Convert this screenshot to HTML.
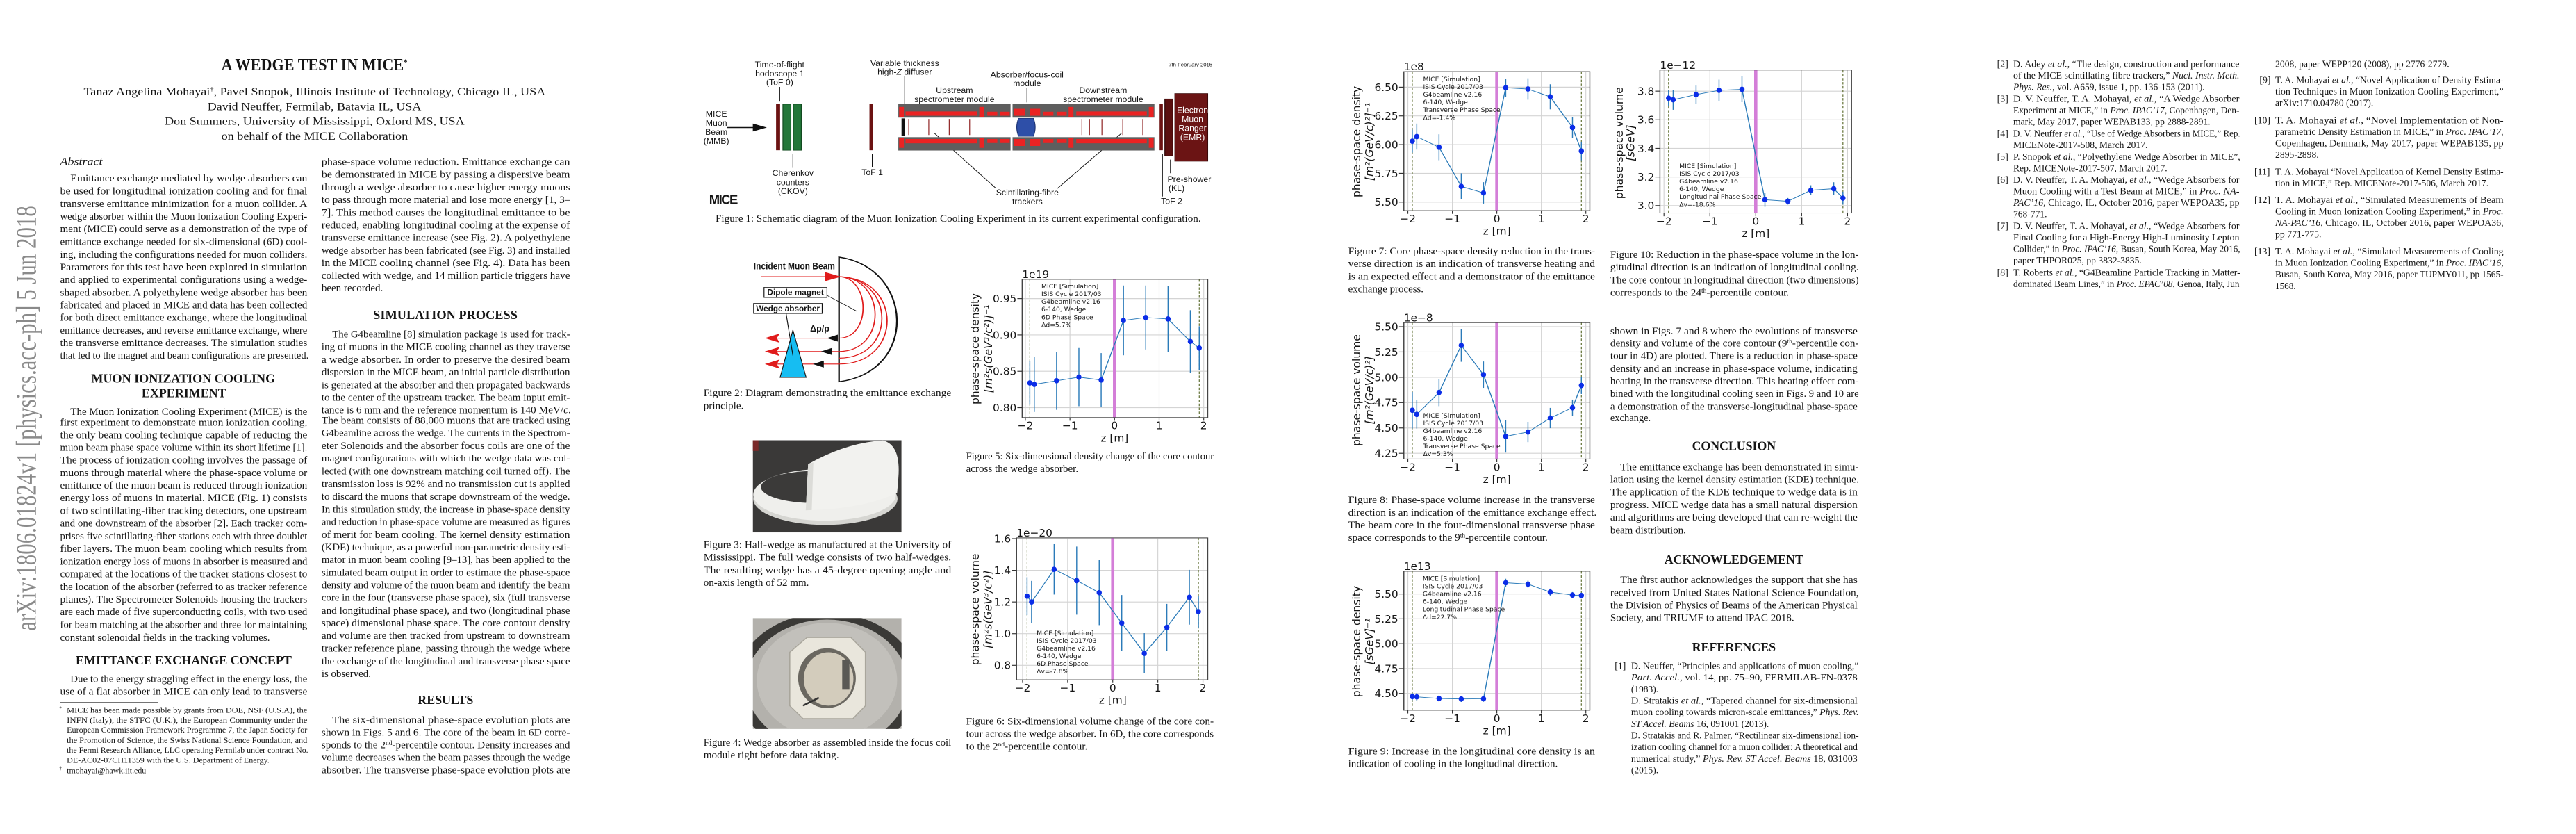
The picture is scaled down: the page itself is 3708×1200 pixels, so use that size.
<!DOCTYPE html>
<html><head><meta charset="utf-8">
<style>
html,body{margin:0;padding:0;background:#fff;}
body{width:3708px;height:1200px;position:relative;overflow:hidden;}
svg.rg{position:absolute;top:0;height:1200px;overflow:visible;}
svg.rg text{font-family:"Liberation Serif",serif;font-size:39px;fill:#151515;}
svg.rg text.h{font-weight:bold;font-size:46px;}
svg.rg text.fn{font-size:30px;}
svg.rg text.rf{font-size:36px;}
svg.rg text.sn{font-family:"Liberation Sans",sans-serif;font-size:32px;}
svg.rg text.ch{font-family:"DejaVu Sans",sans-serif;}
</style></head>
<body>

<!-- ================= PAGE 1 ================= -->
<svg id="regA" class="rg" style="left:0;width:1000px" viewBox="0 0 1560 3120" preserveAspectRatio="none">
<text transform="translate(80,1565) rotate(-90)" text-anchor="middle" textLength="1590" style="font-size:64px;fill:#8a8a8a">arXiv:1806.01824v1  [physics.acc-ph]  5 Jun 2018</text>
<text x="497" y="262" textLength="418" style="font-size:62px;font-weight:bold">A WEDGE TEST IN MICE<tspan dy="-20" style="font-size:30px">*</tspan></text>
<g style="font-size:42px">
<text x="188" y="356" textLength="1037" style="font-size:42px">Tanaz Angelina Mohayai<tspan dy="-14" style="font-size:24px">†</tspan><tspan dy="14">, Pavel Snopok, Illinois Institute of Technology, Chicago IL, USA</tspan></text>
<text x="466" y="412" textLength="480" style="font-size:42px">David Neuffer, Fermilab, Batavia IL, USA</text>
<text x="370" y="467" textLength="673" style="font-size:42px">Don Summers, University of Mississippi, Oxford MS, USA</text>
<text x="497" y="522" textLength="419" style="font-size:42px">on behalf of the MICE Collaboration</text>
</g>
<text x="135" y="617" textLength="95" style="font-style:italic;font-size:42px">Abstract</text>
<g>
<text x="158" y="679" textLength="532">Emittance exchange mediated by wedge absorbers can</text>
<text x="135" y="727" textLength="555">be used for longitudinal ionization cooling and for final</text>
<text x="135" y="775" textLength="555">transverse emittance minimization for a muon collider. A</text>
<text x="135" y="822" textLength="555">wedge absorber within the Muon Ionization Cooling Experi-</text>
<text x="135" y="869" textLength="555">ment (MICE) could serve as a demonstration of the type of</text>
<text x="135" y="917" textLength="555">emittance exchange needed for six-dimensional (6D) cool-</text>
<text x="135" y="964" textLength="555">ing, including the configurations needed for muon colliders.</text>
<text x="135" y="1011" textLength="555">Parameters for this test have been explored in simulation</text>
<text x="135" y="1058" textLength="555">and applied to experimental configurations using a wedge-</text>
<text x="135" y="1106" textLength="555">shaped absorber. A polyethylene wedge absorber has been</text>
<text x="135" y="1153" textLength="555">fabricated and placed in MICE and data has been collected</text>
<text x="135" y="1200" textLength="555">for both direct emittance exchange, where the longitudinal</text>
<text x="135" y="1248" textLength="555">emittance decreases, and reverse emittance exchange, where</text>
<text x="135" y="1295" textLength="555">the transverse emittance decreases. The simulation studies</text>
<text x="135" y="1342" textLength="558">that led to the magnet and beam configurations are presented.</text>
</g>
<text class="h" x="205" y="1431" textLength="413">MUON IONIZATION COOLING</text>
<text class="h" x="318" y="1486" textLength="190">EXPERIMENT</text>
<g>
<text x="158" y="1552" textLength="532">The Muon Ionization Cooling Experiment (MICE) is the</text>
<text x="135" y="1592" textLength="555">first experiment to demonstrate muon ionization cooling,</text>
<text x="135" y="1639" textLength="555">the only beam cooling technique capable of reducing the</text>
<text x="135" y="1686" textLength="555">muon beam phase space volume within its short lifetime [1].</text>
<text x="135" y="1733" textLength="555">The process of ionization cooling involves the passage of</text>
<text x="135" y="1781" textLength="555">muons through material where the phase-space volume or</text>
<text x="135" y="1828" textLength="555">emittance of the muon beam is reduced through ionization</text>
<text x="135" y="1875" textLength="555">energy loss of muons in material. MICE (Fig. 1) consists</text>
<text x="135" y="1923" textLength="555">of two scintillating-fiber tracking detectors, one upstream</text>
<text x="135" y="1970" textLength="555">and one downstream of the absorber [2]. Each tracker com-</text>
<text x="135" y="2017" textLength="555">prises five scintillating-fiber stations each with three doublet</text>
<text x="135" y="2065" textLength="555">fiber layers. The muon beam cooling which results from</text>
<text x="135" y="2112" textLength="555">ionization energy loss of muons in absorber is measured and</text>
<text x="135" y="2159" textLength="555">compared at the locations of the tracker stations closest to</text>
<text x="135" y="2207" textLength="555">the location of the absorber (referred to as tracker reference</text>
<text x="135" y="2254" textLength="555">planes). The Spectrometer Solenoids housing the trackers</text>
<text x="135" y="2301" textLength="555">are each made of five superconducting coils, with two used</text>
<text x="135" y="2349" textLength="555">for beam matching at the absorber and three for maintaining</text>
<text x="135" y="2397" textLength="471">constant solenoidal fields in the tracking volumes.</text>
</g>
<text class="h" x="170" y="2486" textLength="485">EMITTANCE EXCHANGE CONCEPT</text>
<g>
<text x="158" y="2552" textLength="532">Due to the energy straggling effect in the energy loss, the</text>
<text x="135" y="2599" textLength="555">use of a flat absorber in MICE can only lead to transverse</text>
</g>
<line x1="135" y1="2628" x2="355" y2="2628" stroke="#222" stroke-width="2"/>
<g>
<text class="fn" x="133" y="2656" style="font-size:20px">*</text>
<text class="fn" x="150" y="2666" textLength="540">MICE has been made possible by grants from DOE, NSF (U.S.A), the</text>
<text class="fn" x="150" y="2704" textLength="540">INFN (Italy), the STFC (U.K.), the European Community under the</text>
<text class="fn" x="150" y="2741" textLength="540">European Commission Framework Programme 7, the Japan Society for</text>
<text class="fn" x="150" y="2779" textLength="540">the Promotion of Science, the Swiss National Science Foundation, and</text>
<text class="fn" x="150" y="2816" textLength="542">the Fermi Research Alliance, LLC operating Fermilab under contract No.</text>
<text class="fn" x="150" y="2854" textLength="455">DE-AC02-07CH11359 with the U.S. Department of Energy.</text>
<text class="fn" x="133" y="2880" style="font-size:20px">†</text>
<text class="fn" x="150" y="2892" textLength="178">tmohayai@hawk.iit.edu</text>
</g>
<g>
<text x="722" y="617" textLength="558">phase-space volume reduction. Emittance exchange can</text>
<text x="722" y="664" textLength="558">be demonstrated in MICE by passing a dispersive beam</text>
<text x="722" y="712" textLength="558">through a wedge absorber to cause higher energy muons</text>
<text x="722" y="759" textLength="558">to pass through more material and lose more energy [1, 3–</text>
<text x="722" y="807" textLength="558">7]. This method causes the longitudinal emittance to be</text>
<text x="722" y="854" textLength="558">reduced, enabling longitudinal cooling at the expense of</text>
<text x="722" y="901" textLength="558">transverse emittance increase (see Fig. 2). A polyethylene</text>
<text x="722" y="949" textLength="558">wedge absorber has been fabricated (see Fig. 3) and installed</text>
<text x="722" y="996" textLength="558">in the MICE cooling channel (see Fig. 4). Data has been</text>
<text x="722" y="1043" textLength="558">collected with wedge, and 14 million particle triggers have</text>
<text x="722" y="1090" textLength="138">been recorded.</text>
</g>
<text class="h" x="838" y="1194" textLength="324">SIMULATION PROCESS</text>
<g>
<text x="746" y="1262" textLength="534">The G4beamline [8] simulation package is used for track-</text>
<text x="722" y="1309" textLength="558">ing of muons in the MICE cooling channel as they traverse</text>
<text x="722" y="1357" textLength="558">a wedge absorber. In order to preserve the desired beam</text>
<text x="722" y="1404" textLength="558">dispersion in the MICE beam, an initial particle distribution</text>
<text x="722" y="1452" textLength="558">is generated at the absorber and then propagated backwards</text>
<text x="722" y="1499" textLength="558">to the center of the upstream tracker. The beam input emit-</text>
<text x="722" y="1546" textLength="560">tance is 6 mm and the reference momentum is 140 MeV/<tspan font-style="italic">c</tspan>.</text>
<text x="722" y="1585" textLength="558">The beam consists of 88,000 muons that are tracked using</text>
<text x="722" y="1632" textLength="558">G4beamline across the wedge. The currents in the Spectrom-</text>
<text x="722" y="1679" textLength="558">eter Solenoids and the absorber focus coils are one of the</text>
<text x="722" y="1727" textLength="558">magnet configurations with which the wedge data was col-</text>
<text x="722" y="1774" textLength="558">lected (with one downstream matching coil turned off). The</text>
<text x="722" y="1822" textLength="558">transmission loss is 92% and no transmission cut is applied</text>
<text x="722" y="1869" textLength="558">to discard the muons that scrape downstream of the wedge.</text>
<text x="722" y="1917" textLength="558">In this simulation study, the increase in phase-space density</text>
<text x="722" y="1964" textLength="558">and reduction in phase-space volume are measured as figures</text>
<text x="722" y="2012" textLength="558">of merit for beam cooling. The kernel density estimation</text>
<text x="722" y="2059" textLength="558">(KDE) technique, as a powerful non-parametric density esti-</text>
<text x="722" y="2106" textLength="558">mator in muon beam cooling [9–13], has been applied to the</text>
<text x="722" y="2154" textLength="558">simulated beam output in order to estimate the phase-space</text>
<text x="722" y="2201" textLength="558">density and volume of the muon beam and identify the beam</text>
<text x="722" y="2248" textLength="558">core in the four (transverse phase space), six (full transverse</text>
<text x="722" y="2296" textLength="558">and longitudinal phase space), and two (longitudinal phase</text>
<text x="722" y="2343" textLength="558">space) dimensional phase space. The core contour density</text>
<text x="722" y="2390" textLength="558">and volume are then tracked from upstream to downstream</text>
<text x="722" y="2438" textLength="558">tracker reference plane, passing through the wedge where</text>
<text x="722" y="2485" textLength="558">the exchange of the longitudinal and transverse phase space</text>
<text x="722" y="2532" textLength="111">is observed.</text>
</g>
<text class="h" x="938" y="2634" textLength="125">RESULTS</text>
<g>
<text x="746" y="2705" textLength="534">The six-dimensional phase-space evolution plots are</text>
<text x="722" y="2752" textLength="558">shown in Figs. 5 and 6. The core of the beam in 6D corre-</text>
<text x="722" y="2799" textLength="558">sponds to the 2<tspan dy="-12" style="font-size:24px">nd</tspan><tspan dy="12">-percentile contour. Density increases and</tspan></text>
<text x="722" y="2846" textLength="558">volume decreases when the beam passes through the wedge</text>
<text x="722" y="2892" textLength="558">absorber. The transverse phase-space evolution plots are</text>
</g>
</svg>

<!-- ================= PAGE 2 ================= -->
<svg id="regB" class="rg" style="left:1000px;width:900px" viewBox="0 0 1560 3120" preserveAspectRatio="none">
<g>
<g style="font-family:'Liberation Sans',sans-serif">
<text class="sn" transform="translate(1237,248) scale(.667,1)" text-anchor="middle" style="font-size:20px">7th February 2015</text>
<text class="sn" transform="translate(212,252) scale(.667,1)" text-anchor="middle">Time-of-flight</text>
<text class="sn" transform="translate(212,286) scale(.667,1)" text-anchor="middle">hodoscope 1</text>
<text class="sn" transform="translate(212,319) scale(.667,1)" text-anchor="middle">(ToF 0)</text>
<text class="sn" transform="translate(54,437) scale(.667,1)" text-anchor="middle">MICE</text>
<text class="sn" transform="translate(54,471) scale(.667,1)" text-anchor="middle">Muon</text>
<text class="sn" transform="translate(54,504) scale(.667,1)" text-anchor="middle">Beam</text>
<text class="sn" transform="translate(54,538) scale(.667,1)" text-anchor="middle">(MMB)</text>
<text class="sn" transform="translate(245,658) scale(.667,1)" text-anchor="middle">Cherenkov</text>
<text class="sn" transform="translate(245,693) scale(.667,1)" text-anchor="middle">counters</text>
<text class="sn" transform="translate(245,726) scale(.667,1)" text-anchor="middle">(CKOV)</text>
<text class="sn" transform="translate(443,655) scale(.667,1)" text-anchor="middle">ToF 1</text>
<text class="sn" transform="translate(524,247) scale(.667,1)" text-anchor="middle">Variable thickness</text>
<text class="sn" transform="translate(524,280) scale(.667,1)" text-anchor="middle">high-<tspan font-style="italic">Z</tspan> diffuser</text>
<text class="sn" transform="translate(648,348) scale(.667,1)" text-anchor="middle">Upstream</text>
<text class="sn" transform="translate(648,382) scale(.667,1)" text-anchor="middle">spectrometer module</text>
<text class="sn" transform="translate(829,290) scale(.667,1)" text-anchor="middle">Absorber/focus-coil</text>
<text class="sn" transform="translate(829,323) scale(.667,1)" text-anchor="middle">module</text>
<text class="sn" transform="translate(1019,348) scale(.667,1)" text-anchor="middle">Downstream</text>
<text class="sn" transform="translate(1019,382) scale(.667,1)" text-anchor="middle">spectrometer module</text>
<text class="sn" transform="translate(830,730) scale(.667,1)" text-anchor="middle">Scintillating-fibre</text>
<text class="sn" transform="translate(830,765) scale(.667,1)" text-anchor="middle">trackers</text>
<text class="sn" transform="translate(1190,763) scale(.667,1)" text-anchor="middle">ToF 2</text>
<text class="sn" transform="translate(1234,681) scale(.667,1)" text-anchor="middle">Pre-shower</text>
<text class="sn" transform="translate(1202,715) scale(.667,1)" text-anchor="middle">(KL)</text>
<text class="sn" transform="translate(36,763) scale(.667,1)" style="font-size:48px;font-weight:bold;letter-spacing:-4px">MICE</text>
</g>
<g stroke="#111" stroke-width="2" fill="#111">
<line x1="212" y1="325" x2="212" y2="380"/><line x1="245" y1="628" x2="245" y2="575"/>
<line x1="443" y1="625" x2="443" y2="575"/><line x1="524" y1="285" x2="524" y2="440"/>
<line x1="829" y1="330" x2="829" y2="383"/><line x1="1167" y1="735" x2="1167" y2="575"/>
<line x1="1187" y1="648" x2="1187" y2="597"/>
<line x1="752" y1="705" x2="597" y2="497"/><line x1="905" y1="705" x2="1066" y2="497"/>
<line x1="80" y1="477" x2="160" y2="477" stroke-width="4"/>
<polygon points="145,462 180,477 145,492" stroke="none"/>
</g>
<rect x="203" y="390" width="10" height="172" fill="#6b1212"/>
<rect x="220" y="390" width="20" height="172" fill="#23773a" stroke="#124a20" stroke-width="2"/>
<rect x="246" y="390" width="20" height="172" fill="#23773a" stroke="#124a20" stroke-width="2"/>
<rect x="436" y="390" width="8" height="172" fill="#6b1212"/>
<rect x="508" y="390" width="280" height="50" fill="#5e5e5e"/><rect x="793" y="390" width="354" height="50" fill="#5e5e5e"/>
<rect x="508" y="513" width="280" height="50" fill="#5e5e5e"/><rect x="793" y="513" width="354" height="50" fill="#5e5e5e"/>
<g fill="#ea2323">
<rect x="510" y="400" width="12" height="38"/><rect x="526" y="417" width="179" height="16"/><rect x="710" y="400" width="12" height="38"/><rect x="730" y="418" width="25" height="15"/><rect x="762" y="418" width="24" height="15"/>
<rect x="797" y="407" width="28" height="26"/><rect x="836" y="407" width="26" height="26"/><rect x="870" y="418" width="25" height="15"/><rect x="903" y="418" width="25" height="15"/><rect x="933" y="400" width="12" height="38"/><rect x="952" y="417" width="176" height="16"/><rect x="1133" y="400" width="12" height="38"/>
<rect x="510" y="515" width="12" height="38"/><rect x="526" y="520" width="179" height="16"/><rect x="710" y="515" width="12" height="38"/><rect x="730" y="520" width="25" height="15"/><rect x="762" y="520" width="24" height="15"/>
<rect x="797" y="520" width="28" height="26"/><rect x="836" y="520" width="26" height="26"/><rect x="870" y="520" width="25" height="15"/><rect x="903" y="520" width="25" height="15"/><rect x="933" y="515" width="12" height="38"/><rect x="952" y="520" width="176" height="16"/><rect x="1133" y="515" width="12" height="38"/>
</g>
<rect x="516" y="443" width="8" height="65" fill="#111"/>
<g stroke="#8b1a1a" stroke-width="2">
<line x1="534" y1="445" x2="534" y2="505"/><line x1="584" y1="445" x2="584" y2="505"/><line x1="635" y1="445" x2="635" y2="505"/><line x1="686" y1="445" x2="686" y2="505"/>
<line x1="966" y1="445" x2="966" y2="505"/><line x1="985" y1="445" x2="985" y2="505"/><line x1="1016" y1="445" x2="1016" y2="505"/><line x1="1068" y1="445" x2="1068" y2="505"/><line x1="1118" y1="445" x2="1118" y2="505"/>
</g>
<path d="M808,443 L845,443 Q854,476 845,510 L808,510 Q799,476 808,443 Z" fill="#2e4fa8" stroke="#1d3475" stroke-width="2"/>
<rect x="1160" y="390" width="8" height="172" fill="#6b1212"/>
<rect x="1173" y="370" width="20" height="213" fill="#5a0f0f" stroke="#2a0505" stroke-width="2"/>
<rect x="1198" y="350" width="82" height="253" fill="#6b1414" stroke="#3a0808" stroke-width="2"/>
<g style="fill:#fff">
<text class="sn" transform="translate(1242,422) scale(.667,1)" text-anchor="middle" style="fill:#fff">Electron</text>
<text class="sn" transform="translate(1242,456) scale(.667,1)" text-anchor="middle" style="fill:#fff">Muon</text>
<text class="sn" transform="translate(1242,490) scale(.667,1)" text-anchor="middle" style="fill:#fff">Ranger</text>
<text class="sn" transform="translate(1242,524) scale(.667,1)" text-anchor="middle" style="fill:#fff">(EMR)</text>
</g>
</g>
<text x="52" y="829" textLength="1211">Figure 1: Schematic diagram of the Muon Ionization Cooling Experiment in its current experimental configuration.</text>

<g>
<text class="sn" x="147" y="1007" textLength="203" style="font-weight:bold;font-size:36px">Incident Muon Beam</text>
<path d="M360,962 C 545,1000 560,1390 360,1428 Z" fill="none" stroke="#111" stroke-width="4"/>
<g fill="none" stroke="#e01b1b" stroke-width="3">
<line x1="165" y1="1035" x2="340" y2="1035"/>
<path d="M360,1035 C 520,1040 520,1362 360,1362"/>
<path d="M360,1035 C 480,1040 480,1315 360,1315"/>
<path d="M360,1035 C 440,1040 440,1265 360,1265"/>
<path d="M360,1035 C 500,1040 505,1340 360,1340"/>
<line x1="190" y1="1265" x2="360" y2="1265"/><line x1="190" y1="1315" x2="360" y2="1315"/><line x1="190" y1="1362" x2="360" y2="1362"/>
</g>
<g fill="#e01b1b">
<polygon points="325,1018 365,1035 325,1052"/>
<polygon points="175,1265 212,1248 205,1265 212,1282"/><polygon points="175,1315 212,1298 205,1315 212,1332"/><polygon points="175,1362 212,1345 205,1362 212,1379"/>
</g>
<g fill="#111">
<polygon points="330,1265 357,1252 357,1278"/><polygon points="315,1315 342,1302 342,1328"/><polygon points="295,1362 322,1349 322,1375"/>
</g>
<rect x="173" y="1075" width="157" height="38" fill="#fff" stroke="#111" stroke-width="2"/>
<text class="sn" x="181" y="1104" textLength="141" style="font-size:32px;font-weight:bold">Dipole magnet</text>
<line x1="330" y1="1105" x2="405" y2="1165" stroke="#111" stroke-width="2"/>
<rect x="147" y="1135" width="171" height="38" fill="#fff" stroke="#111" stroke-width="2"/>
<text class="sn" x="153" y="1165" textLength="159" style="font-size:32px;font-weight:bold">Wedge absorber</text>
<text class="sn" x="288" y="1240" textLength="48" style="font-size:34px;font-weight:bold">Δp/p</text>
<polygon points="245,1235 213,1412 278,1412" fill="#16bdf2" stroke="#111" stroke-width="2"/>
<line x1="228" y1="1173" x2="245" y2="1330" stroke="#111" stroke-width="2"/>
</g>
<g>
<text x="22" y="1482" textLength="618">Figure 2: Diagram demonstrating the emittance exchange</text>
<text x="22" y="1530" textLength="100">principle.</text>
</g>

<defs>
<clipPath id="clip3"><rect x="145" y="1647" width="371" height="345"/></clipPath>
<clipPath id="clip4"><rect x="145" y="2312" width="371" height="415"/></clipPath>
</defs>
<g clip-path="url(#clip3)">
<rect x="145" y="1647" width="371" height="345" fill="#3a3938"/>
<rect x="145" y="1647" width="14" height="40" fill="#7a2a2a"/>
<ellipse cx="326" cy="1866" rx="180" ry="98" fill="#d6d6d2"/>
<ellipse cx="324" cy="1851" rx="178" ry="97" fill="#efefec"/>
<ellipse cx="300" cy="1822" rx="135" ry="60" fill="#3b3a39"/>
<path d="M283,1736 Q 380,1655 470,1648 Q 515,1665 508,1790 L 505,1844 Q 420,1905 277,1909 Z" fill="#f2f2ef"/>
<path d="M283,1736 L277,1909 L292,1908 L296,1730 Z" fill="#dcdcd8"/>
</g>
<g>
<text x="22" y="2050" textLength="618">Figure 3: Half-wedge as manufactured at the University of</text>
<text x="22" y="2097" textLength="618">Mississippi. The full wedge consists of two half-wedges.</text>
<text x="22" y="2145" textLength="618">The resulting wedge has a 45-degree opening angle and</text>
<text x="22" y="2192" textLength="263">on-axis length of 52 mm.</text>
</g>
<g clip-path="url(#clip4)">
<rect x="145" y="2312" width="371" height="415" fill="#b3b1ac"/>
<ellipse cx="330" cy="2560" rx="215" ry="255" fill="none" stroke="#3a3936" stroke-width="26"/>
<ellipse cx="330" cy="2545" rx="175" ry="215" fill="#c2c0bb"/>
<polygon points="280,2385 390,2385 426,2440 426,2640 395,2688 270,2688 237,2640 237,2440" fill="#e9e6dc" stroke="#a9a69c" stroke-width="3"/>
<ellipse cx="330" cy="2537" rx="72" ry="112" fill="#6a6760"/>
<ellipse cx="334" cy="2540" rx="62" ry="100" fill="#d3ccbc"/>
<rect x="368" y="2470" width="18" height="110" fill="#5a5955"/>
<line x1="270" y1="2640" x2="310" y2="2610" stroke="#333" stroke-width="6"/>
</g>
<g>
<text x="22" y="2790" textLength="618">Figure 4: Wedge absorber as assembled inside the focus coil</text>
<text x="22" y="2837" textLength="338">module right before data taking.</text>
</g>
<g>
<text x="677" y="1719" textLength="618">Figure 5: Six-dimensional density change of the core contour</text>
<text x="677" y="1766" textLength="280">across the wedge absorber.</text>
</g>
<g>
<text x="677" y="2710" textLength="618">Figure 6: Six-dimensional volume change of the core con-</text>
<text x="677" y="2757" textLength="618">tour across the wedge absorber. In 6D, the core corresponds</text>
<text x="677" y="2804" textLength="303">to the 2<tspan dy="-12" style="font-size:24px">nd</tspan><tspan dy="12">-percentile contour.</tspan></text>
</g>
</svg>

<!-- ================= PAGE 3 ================= -->
<svg id="regC" class="rg" style="left:1850px;width:900px" viewBox="0 0 1560 3120" preserveAspectRatio="none">
<g>
<text x="157" y="952" textLength="616">Figure 7: Core phase-space density reduction in the trans-</text>
<text x="157" y="999" textLength="616">verse direction is an indication of transverse heating and</text>
<text x="157" y="1046" textLength="616">is an expected effect and a demonstrator of the emittance</text>
<text x="157" y="1093" textLength="188">exchange process.</text>
</g>
<g>
<text x="811" y="965" textLength="620">Figure 10: Reduction in the phase-space volume in the lon-</text>
<text x="811" y="1012" textLength="620">gitudinal direction is an indication of longitudinal cooling.</text>
<text x="811" y="1059" textLength="620">The core contour in longitudinal direction (two dimensions)</text>
<text x="811" y="1106" textLength="446">corresponds to the 24<tspan dy="-12" style="font-size:24px">th</tspan><tspan dy="12">-percentile contour.</tspan></text>
</g>
<g>
<text x="811" y="1250" textLength="617">shown in Figs. 7 and 8 where the evolutions of transverse</text>
<text x="811" y="1296" textLength="620">density and volume of the core contour (9<tspan dy="-12" style="font-size:24px">th</tspan><tspan dy="12">-percentile con-</tspan></text>
<text x="811" y="1343" textLength="617">tour in 4D) are plotted. There is a reduction in phase-space</text>
<text x="811" y="1391" textLength="617">density and an increase in phase-space volume, indicating</text>
<text x="811" y="1438" textLength="620">heating in the transverse direction. This heating effect com-</text>
<text x="811" y="1485" textLength="620">bined with the longitudinal cooling seen in Figs. 9 and 10 are</text>
<text x="811" y="1533" textLength="617">a demonstration of the transverse-longitudinal phase-space</text>
<text x="811" y="1575" textLength="101">exchange.</text>
</g>
<g>
<text x="157" y="1882" textLength="616">Figure 8: Phase-space volume increase in the transverse</text>
<text x="157" y="1929" textLength="620">direction is an indication of the emittance exchange effect.</text>
<text x="157" y="1976" textLength="616">The beam core in the four-dimensional transverse phase</text>
<text x="157" y="2023" textLength="498">space corresponds to the 9<tspan dy="-12" style="font-size:24px">th</tspan><tspan dy="12">-percentile contour.</tspan></text>
</g>
<g>
<text x="157" y="2822" textLength="616">Figure 9: Increase in the longitudinal core density is an</text>
<text x="157" y="2869" textLength="523">indication of cooling in the longitudinal direction.</text>
</g>
<text class="h" x="1015" y="1684" textLength="209">CONCLUSION</text>
<g>
<text x="836" y="1759" textLength="595">The emittance exchange has been demonstrated in simu-</text>
<text x="811" y="1806" textLength="620">lation using the kernel density estimation (KDE) technique.</text>
<text x="811" y="1853" textLength="617">The application of the KDE technique to wedge data is in</text>
<text x="811" y="1901" textLength="617">progress. MICE wedge data has a small natural dispersion</text>
<text x="811" y="1948" textLength="617">and algorithms are being developed that can re-weight the</text>
<text x="811" y="1995" textLength="189">beam distribution.</text>
</g>
<text class="h" x="946" y="2109" textLength="347">ACKNOWLEDGEMENT</text>
<g>
<text x="836" y="2182" textLength="592">The first author acknowledges the support that she has</text>
<text x="811" y="2229" textLength="620">received from United States National Science Foundation,</text>
<text x="811" y="2276" textLength="617">the Division of Physics of Beams of the American Physical</text>
<text x="811" y="2323" textLength="459">Society, and TRIUMF to attend IPAC 2018.</text>
</g>
<text class="h" x="1015" y="2436" textLength="209">REFERENCES</text>
<g>
<text class="rf" x="822" y="2503">[1]</text>
<text class="rf" x="863" y="2503" textLength="568">D. Neuffer, “Principles and applications of muon cooling,”</text>
<text class="rf" x="863" y="2546" textLength="565"><tspan font-style="italic">Part. Accel.</tspan>, vol. 14, pp. 75–90, FERMILAB-FN-0378</text>
<text class="rf" x="863" y="2589" textLength="68">(1983).</text>
<text class="rf" x="863" y="2633" textLength="565">D. Stratakis <tspan font-style="italic">et al.</tspan>, “Tapered channel for six-dimensional</text>
<text class="rf" x="863" y="2676" textLength="568">muon cooling towards micron-scale emittances,” <tspan font-style="italic">Phys. Rev.</tspan></text>
<text class="rf" x="863" y="2719" textLength="344"><tspan font-style="italic">ST Accel. Beams</tspan> 16, 091001 (2013).</text>
<text class="rf" x="863" y="2762" textLength="568">D. Stratakis and R. Palmer, “Rectilinear six-dimensional ion-</text>
<text class="rf" x="863" y="2806" textLength="565">ization cooling channel for a muon collider: A theoretical and</text>
<text class="rf" x="863" y="2849" textLength="565">numerical study,” <tspan font-style="italic">Phys. Rev. ST Accel. Beams</tspan> 18, 031003</text>
<text class="rf" x="863" y="2892" textLength="68">(2015).</text>
</g>
</svg>

<!-- ================= PAGE 4 ================= -->
<svg id="regD" class="rg" style="left:2750px;width:958px" viewBox="0 0 1560 3120" preserveAspectRatio="none">
<g>
<text class="rf" x="203" y="251">[2]</text>
<text class="rf" x="241" y="251" textLength="530">D. Adey <tspan font-style="italic">et al.</tspan>, “The design, construction and performance</text>
<text class="rf" x="241" y="294" textLength="530">of the MICE scintillating fibre trackers,” <tspan font-style="italic">Nucl. Instr. Meth.</tspan></text>
<text class="rf" x="241" y="337" textLength="449"><tspan font-style="italic">Phys. Res.</tspan>, vol. A659, issue 1, pp. 136-153 (2011).</text>
<text class="rf" x="203" y="381">[3]</text>
<text class="rf" x="241" y="381" textLength="530">D. V. Neuffer, T. A. Mohayai, <tspan font-style="italic">et al.</tspan>, “A Wedge Absorber</text>
<text class="rf" x="241" y="424" textLength="530">Experiment at MICE,” in <tspan font-style="italic">Proc. IPAC’17</tspan>, Copenhagen, Den-</text>
<text class="rf" x="241" y="467" textLength="462">mark, May 2017, paper WEPAB133, pp 2888-2891.</text>
<text class="rf" x="203" y="511">[4]</text>
<text class="rf" x="241" y="511" textLength="532">D. V. Neuffer <tspan font-style="italic">et al.</tspan>, “Use of Wedge Absorbers in MICE,” Rep.</text>
<text class="rf" x="241" y="554" textLength="315">MICENote-2017-508, March 2017.</text>
<text class="rf" x="203" y="598">[5]</text>
<text class="rf" x="241" y="598" textLength="532">P. Snopok <tspan font-style="italic">et al.</tspan>, “Polyethylene Wedge Absorber in MICE”,</text>
<text class="rf" x="241" y="641" textLength="361">Rep. MICENote-2017-507, March 2017.</text>
<text class="rf" x="203" y="684">[6]</text>
<text class="rf" x="241" y="684" textLength="530">D. V. Neuffer, T. A. Mohayai, <tspan font-style="italic">et al.</tspan>, “Wedge Absorbers for</text>
<text class="rf" x="241" y="727" textLength="530">Muon Cooling with a Test Beam at MICE,” in <tspan font-style="italic">Proc. NA-</tspan></text>
<text class="rf" x="241" y="770" textLength="530"><tspan font-style="italic">PAC’16</tspan>, Chicago, IL, October 2016, paper WEPOA35, pp</text>
<text class="rf" x="241" y="813" textLength="79">768-771.</text>
<text class="rf" x="203" y="857">[7]</text>
<text class="rf" x="241" y="857" textLength="530">D. V. Neuffer, T. A. Mohayai, <tspan font-style="italic">et al.</tspan>, “Wedge Absorbers for</text>
<text class="rf" x="241" y="900" textLength="530">Final Cooling for a High-Energy High-Luminosity Lepton</text>
<text class="rf" x="241" y="943" textLength="532">Collider,” in <tspan font-style="italic">Proc. IPAC’16</tspan>, Busan, South Korea, May 2016,</text>
<text class="rf" x="241" y="986" textLength="301">paper THPOR025, pp 3832-3835.</text>
<text class="rf" x="203" y="1031">[8]</text>
<text class="rf" x="241" y="1031" textLength="532">T. Roberts <tspan font-style="italic">et al.</tspan>, “G4Beamline Particle Tracking in Matter-</text>
<text class="rf" x="241" y="1074" textLength="530">dominated Beam Lines,” in <tspan font-style="italic">Proc. EPAC’08</tspan>, Genoa, Italy, Jun</text>
<text class="rf" x="855" y="251" textLength="408">2008, paper WEPP120 (2008), pp 2776-2779.</text>
<text class="rf" x="818" y="311">[9]</text>
<text class="rf" x="855" y="311" textLength="535">T. A. Mohayai <tspan font-style="italic">et al.</tspan>, “Novel Application of Density Estima-</text>
<text class="rf" x="855" y="354" textLength="535">tion Techniques in Muon Ionization Cooling Experiment,”</text>
<text class="rf" x="855" y="397" textLength="230">arXiv:1710.04780 (2017).</text>
<text class="rf" x="806" y="461">[10]</text>
<text class="rf" x="855" y="461" textLength="535">T. A. Mohayai <tspan font-style="italic">et al.</tspan>, “Novel Implementation of Non-</text>
<text class="rf" x="855" y="504" textLength="535">parametric Density Estimation in MICE,” in <tspan font-style="italic">Proc. IPAC’17</tspan>,</text>
<text class="rf" x="855" y="547" textLength="535">Copenhagen, Denmark, May 2017, paper WEPAB135, pp</text>
<text class="rf" x="855" y="590" textLength="102">2895-2898.</text>
<text class="rf" x="806" y="654">[11]</text>
<text class="rf" x="855" y="654" textLength="535">T. A. Mohayai “Novel Application of Kernel Density Estima-</text>
<text class="rf" x="855" y="697" textLength="500">tion in MICE,” Rep. MICENote-2017-506, March 2017.</text>
<text class="rf" x="806" y="759">[12]</text>
<text class="rf" x="855" y="759" textLength="535">T. A. Mohayai <tspan font-style="italic">et al.</tspan>, “Simulated Measurements of Beam</text>
<text class="rf" x="855" y="802" textLength="535">Cooling in Muon Ionization Cooling Experiment,” in <tspan font-style="italic">Proc.</tspan></text>
<text class="rf" x="855" y="845" textLength="535"><tspan font-style="italic">NA-PAC’16</tspan>, Chicago, IL, October 2016, paper WEPOA36,</text>
<text class="rf" x="855" y="888" textLength="108">pp 771-775.</text>
<text class="rf" x="806" y="952">[13]</text>
<text class="rf" x="855" y="952" textLength="535">T. A. Mohayai <tspan font-style="italic">et al.</tspan>, “Simulated Measurements of Cooling</text>
<text class="rf" x="855" y="995" textLength="535">in Muon Ionization Cooling Experiment,” in <tspan font-style="italic">Proc. IPAC’16</tspan>,</text>
<text class="rf" x="855" y="1038" textLength="535">Busan, South Korea, May 2016, paper TUPMY011, pp 1565-</text>
<text class="rf" x="855" y="1081" textLength="48">1568.</text>
</g>
</svg>

<script>
// ---------- chart data ----------
const zPositions = [-1.9, -1.8, -1.3, -0.8, -0.3, 0.2, 0.7, 1.2, 1.7, 1.9];
const xTickValues = [-2, -1, 0, 1, 2];
const xTickLabels = ['−2', '−1', '0', '1', '2'];

const fig5Density = [0.834, 0.832, 0.837, 0.842, 0.838, 0.920, 0.924, 0.922, 0.891, 0.882];
const fig5Errors = [0.030, 0.038, 0.040, 0.040, 0.037, 0.048, 0.044, 0.045, 0.043, 0.030];
const fig5YTicks = [0.80, 0.85, 0.90, 0.95];
const fig5YTickLabels = ['0.80', '0.85', '0.90', '0.95'];

const fig6Volume = [1.237, 1.200, 1.406, 1.335, 1.259, 1.067, 0.876, 1.040, 1.230, 1.139];
const fig6Errors = [0.120, 0.133, 0.159, 0.215, 0.205, 0.177, 0.127, 0.148, 0.173, 0.100];
const fig6YTicks = [0.8, 1.0, 1.2, 1.4, 1.6];
const fig6YTickLabels = ['0.8', '1.0', '1.2', '1.4', '1.6'];

const fig7Density = [6.030, 6.070, 5.977, 5.637, 5.580, 6.495, 6.484, 6.416, 6.149, 5.944];
const fig7Errors = [0.100, 0.113, 0.113, 0.113, 0.093, 0.078, 0.093, 0.109, 0.092, 0.080];
const fig7YTicks = [5.50, 5.75, 6.00, 6.25, 6.50];
const fig7YTickLabels = ['5.50', '5.75', '6.00', '6.25', '6.50'];

const fig10Volume = [3.751, 3.740, 3.776, 3.806, 3.813, 3.041, 3.030, 3.107, 3.118, 3.052];
const fig10Errors = [0.055, 0.070, 0.063, 0.075, 0.090, 0.050, 0.023, 0.035, 0.045, 0.045];
const fig10YTicks = [3.0, 3.2, 3.4, 3.6, 3.8];
const fig10YTickLabels = ['3.0', '3.2', '3.4', '3.6', '3.8'];

const fig8Volume = [4.675, 4.634, 4.850, 5.315, 5.026, 4.417, 4.460, 4.598, 4.700, 4.920];
const fig8Errors = [0.180, 0.140, 0.135, 0.162, 0.130, 0.160, 0.100, 0.100, 0.080, 0.085];
const fig8YTicks = [4.25, 4.50, 4.75, 5.00, 5.25, 5.50];
const fig8YTickLabels = ['4.25', '4.50', '4.75', '5.00', '5.25', '5.50'];

const fig9Density = [4.468, 4.465, 4.449, 4.444, 4.446, 5.613, 5.599, 5.519, 5.489, 5.484];
const fig9Errors = [0.035, 0.040, 0.030, 0.030, 0.030, 0.040, 0.035, 0.035, 0.030, 0.030];
const fig9YTicks = [4.50, 4.75, 5.00, 5.25, 5.50];
const fig9YTickLabels = ['4.50', '4.75', '5.00', '5.25', '5.50'];

const NS = 'http://www.w3.org/2000/svg';
function mk(parent, tag, attrs, txt) {
  const e = document.createElementNS(NS, tag);
  for (const k in attrs) e.setAttribute(k, attrs[k]);
  if (txt !== undefined) e.textContent = txt;
  parent.appendChild(e);
  return e;
}

function drawChart(cfg) {
  const svg = document.getElementById(cfg.svg);
  const K = 0.667;
  const g = mk(svg, 'g', {});
  
  
  const [bx1, by1, bx2, by2] = cfg.box;
  const xScale = v => cfg.xPx[0] + (v + 2) / 4 * (cfg.xPx[1] - cfg.xPx[0]);
  const yScale = v => cfg.yCal[1] + (v - cfg.yCal[0]) / (cfg.yCal[2] - cfg.yCal[0]) * (cfg.yCal[3] - cfg.yCal[1]);

  const bg = mk(g, 'rect', {x: bx1, y: by1, width: bx2 - bx1, height: by2 - by1, fill: '#fff'});
  
  
  xTickValues.forEach(v => {
    const gl = mk(g, 'line', {x1: xScale(v), x2: xScale(v), y1: by1, y2: by2, stroke: '#d4d4d4', 'stroke-width': 2});
    
    
  });
  cfg.yTicks.forEach(v => {
    const gl = mk(g, 'line', {x1: bx1, x2: bx2, y1: yScale(v), y2: yScale(v), stroke: '#d4d4d4', 'stroke-width': 3});
    
    
  });
  const band = mk(g, 'rect', {x: xScale(0) - 4, y: by1, width: 8, height: by2 - by1, fill: '#d47ed8'});
  
  
  [-1.9, 1.9].forEach(v => {
    const dl = mk(g, 'line', {x1: xScale(v), x2: xScale(v), y1: by1, y2: by2, stroke: '#5a6a2c', 'stroke-width': 2, 'stroke-dasharray': '9,6'});
    
    
  });
  zPositions.forEach((z, i) => {
    const eb = mk(g, 'line', {x1: xScale(z), x2: xScale(z), y1: yScale(cfg.values[i] - cfg.errors[i]), y2: yScale(cfg.values[i] + cfg.errors[i]), stroke: '#2b7bb9', 'stroke-width': 2.5});
    
    
  });
  const d = zPositions.map((z, i) => (i ? 'L' : 'M') + xScale(z).toFixed(1) + ',' + yScale(cfg.values[i]).toFixed(1)).join(' ');
  const ln = mk(g, 'path', {d: d, fill: 'none', stroke: '#2b7bb9', 'stroke-width': 2.5});
  
  
  zPositions.forEach((z, i) => {
    const pt = mk(g, 'ellipse', {cx: xScale(z), cy: yScale(cfg.values[i]), rx: 6.5, ry: 10, fill: '#0b2de8'});
    
    
  });
  const frame = mk(g, 'rect', {x: bx1, y: by1, width: bx2 - bx1, height: by2 - by1, fill: 'none', stroke: '#444', 'stroke-width': 2.5});
  
  
  xTickValues.forEach((v, i) => {
    const tk = mk(g, 'line', {x1: xScale(v), x2: xScale(v), y1: by2, y2: by2 + 12, stroke: '#333', 'stroke-width': 2});
    
    
    const tl = mk(g, 'text', {class: 'ch', transform: 'translate(' + xScale(v) + ',' + (by2 + 44) + ') scale(' + K + ',1)', 'text-anchor': 'middle', style: 'font-size:40px'}, xTickLabels[i]);
    
    
  });
  cfg.yTicks.forEach((v, i) => {
    if (yScale(v) > by2 + 2 || yScale(v) < by1 - 20) return;
    const tk = mk(g, 'line', {x1: bx1 - 12, x2: bx1, y1: yScale(v), y2: yScale(v), stroke: '#333', 'stroke-width': 3});
    
    
    const tl = mk(g, 'text', {class: 'ch', transform: 'translate(' + (bx1 - 14) + ',' + (yScale(v) + 14) + ') scale(' + K + ',1)', 'text-anchor': 'end', style: 'font-size:40px'}, cfg.yTickLabels[i]);
    
    
  });
  const ex = mk(g, 'text', {class: 'ch', transform: 'translate(' + bx1 + ',' + (by1 - 5) + ') scale(' + K + ',1)', style: 'font-size:40px'}, cfg.exponent);
  
  
  cfg.annotation.forEach((t, i) => {
    const at = mk(g, 'text', {class: 'ch', transform: 'translate(' + cfg.annot[0] + ',' + (cfg.annot[1] + 9 + i * 28.8) + ') scale(' + K + ',1)', style: 'font-size:24px'}, t);
    
    
  });
  const yl1 = mk(g, 'text', {class: 'ch', transform: 'translate(' + (cfg.ylab[0] + 9) + ',' + cfg.ylab[2] + ') rotate(-90) scale(1.5,1)', 'text-anchor': 'middle', style: 'font-size:27px'}, cfg.ylabel1);
  
  
  const yl2 = mk(g, 'text', {class: 'ch', transform: 'translate(' + (cfg.ylab[1] + 9) + ',' + cfg.ylab[2] + ') rotate(-90) scale(1.5,1)', 'text-anchor': 'middle', style: 'font-size:27px;font-style:italic'}, cfg.ylabel2);
  
  
  const xl = mk(g, 'text', {class: 'ch', transform: 'translate(' + xScale(0) + ',' + (by2 + 90) + ') scale(' + K + ',1)', 'text-anchor': 'middle', style: 'font-size:40px'}, 'z [m]');
  
  
}

const annoHead = ['MICE [Simulation]', 'ISIS Cycle 2017/03', 'G4beamline v2.16', '6-140, Wedge'];

drawChart({svg: 'regB', name: 'figure-5-6d-density-chart', box: [817, 1045, 1280, 1562], xPx: [825, 1270], yCal: [0.80, 1525, 0.95, 1117],
  values: fig5Density, errors: fig5Errors, yTicks: fig5YTicks, yTickLabels: fig5YTickLabels, exponent: '1e19',
  annotation: annoHead.concat(['6D Phase Space', 'Δd=5.7%']), annot: [865, 1070], ylab: [700, 733, 1305],
  ylabel1: 'phase-space density', ylabel2: '[m²s(GeV³/c²)]⁻¹'});
drawChart({svg: 'regB', name: 'figure-6-6d-volume-chart', box: [803, 2012, 1280, 2543], xPx: [818, 1268], yCal: [0.8, 2489, 1.6, 2015],
  values: fig6Volume, errors: fig6Errors, yTicks: fig6YTicks, yTickLabels: fig6YTickLabels, exponent: '1e−20',
  annotation: annoHead.concat(['6D Phase Space', 'Δv=-7.8%']), annot: [853, 2367], ylab: [700, 732, 2280],
  ylabel1: 'phase-space volume', ylabel2: '[m²s(GeV³/c²)]'});
drawChart({svg: 'regC', name: 'figure-7-transverse-density-chart', box: [296, 268, 760, 788], xPx: [306, 750], yCal: [5.50, 756, 6.50, 326],
  values: fig7Density, errors: fig7Errors, yTicks: fig7YTicks, yTickLabels: fig7YTickLabels, exponent: '1e8',
  annotation: annoHead.concat(['Transverse Phase Space', 'Δd=-1.4%']), annot: [344, 295], ylab: [178, 210, 530],
  ylabel1: 'phase-space density', ylabel2: '[m²(GeV/c)²]⁻¹'});
drawChart({svg: 'regC', name: 'figure-10-longitudinal-volume-chart', box: [935, 262, 1413, 797], xPx: [945, 1403], yCal: [3.0, 769, 3.8, 341],
  values: fig10Volume, errors: fig10Errors, yTicks: fig10YTicks, yTickLabels: fig10YTickLabels, exponent: '1e−12',
  annotation: annoHead.concat(['Longitudinal Phase Space', 'Δv=-18.6%']), annot: [983, 620], ylab: [833, 862, 535],
  ylabel1: 'phase-space volume', ylabel2: '[sGeV]'});
drawChart({svg: 'regC', name: 'figure-8-transverse-volume-chart', box: [296, 1207, 760, 1717], xPx: [306, 750], yCal: [4.50, 1601, 5.50, 1222],
  values: fig8Volume, errors: fig8Errors, yTicks: fig8YTicks, yTickLabels: fig8YTickLabels, exponent: '1e−8',
  annotation: annoHead.concat(['Transverse Phase Space', 'Δv=5.3%']), annot: [344, 1553], ylab: [178, 210, 1460],
  ylabel1: 'phase-space volume', ylabel2: '[m²(GeV/c)²]'});
drawChart({svg: 'regC', name: 'figure-9-longitudinal-density-chart', box: [296, 2137, 760, 2657], xPx: [306, 750], yCal: [4.50, 2594, 5.50, 2222],
  values: fig9Density, errors: fig9Errors, yTicks: fig9YTicks, yTickLabels: fig9YTickLabels, exponent: '1e13',
  annotation: annoHead.concat(['Longitudinal Phase Space', 'Δd=22.7%']), annot: [343, 2163], ylab: [178, 210, 2400],
  ylabel1: 'phase-space density', ylabel2: '[sGeV]⁻¹'});

document.querySelectorAll('text[textLength]').forEach(t => t.setAttribute('lengthAdjust', 'spacingAndGlyphs'));
document.querySelectorAll('svg.rg text:not([textLength]):not([transform])').forEach(t => {
  const x = +t.getAttribute('x'), y = +t.getAttribute('y');
  const svgId = t.ownerSVGElement.id;
  const k = svgId === 'regA' ? 0.6 : (svgId === 'regD' ? 0.627 : 0.667);
  t.setAttribute('transform', 'translate(' + x + ',' + y + ') scale(' + k + ',1)');
  t.setAttribute('x', 0);
  t.setAttribute('y', 0);
});
</script>
</body></html>
